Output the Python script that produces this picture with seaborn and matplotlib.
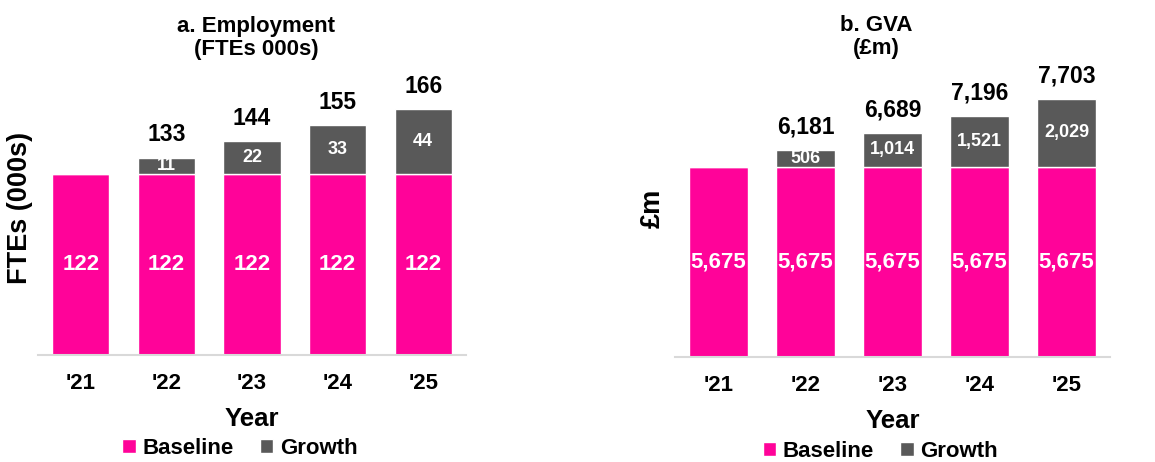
import matplotlib
matplotlib.use("Agg")
import matplotlib.pyplot as plt
import seaborn as sns

years = ["'21", "'22", "'23", "'24", "'25"]

emp_baseline = [122, 122, 122, 122, 122]
emp_growth = [0, 11, 22, 33, 44]
emp_totals = [None, 133, 144, 155, 166]

gva_baseline = [5675, 5675, 5675, 5675, 5675]
gva_growth = [0, 506, 1014, 1521, 2029]
gva_totals = [None, 6181, 6689, 7196, 7703]

pink = '#FF0399'
grey = '#595959'

sns.set_theme(style='white')
plt.rcParams['font.family'] = ['Liberation Sans', 'DejaVu Sans']
plt.rcParams['font.weight'] = 'bold'
plt.rcParams['text.color'] = 'black'
plt.rcParams['axes.labelcolor'] = 'black'
plt.rcParams['xtick.color'] = 'black'

fig = plt.figure(figsize=(11.55, 4.62), dpi=100)
ax1 = fig.add_axes([38 / 1155, 1 - 355 / 462, 428 / 1155, 282 / 462])
ax2 = fig.add_axes([675 / 1155, 1 - 357 / 462, 435 / 1155, 285 / 462])


def fmt(v):
    return '' if not v else f'{v:,}'


def draw(ax, base, growth, totals, ymax, title, title_x, ylabel, ylabel_x):
    sns.barplot(x=years, y=base, color=pink, saturation=1, width=0.667,
                errorbar=None, label='Baseline', ax=ax)
    sns.barplot(x=years, y=growth, bottom=base, color=grey, saturation=1,
                width=0.667, errorbar=None, label='Growth', ax=ax)
    base_bars, growth_bars = ax.containers[0], ax.containers[1]
    ax.bar_label(base_bars, labels=[fmt(v) for v in base], label_type='center',
                 color='white', fontsize=16, fontweight='bold')
    ax.bar_label(growth_bars, labels=[fmt(v) for v in growth], label_type='center',
                 color='white', fontsize=13, fontweight='bold')
    ax.bar_label(growth_bars, labels=[fmt(v) for v in totals], padding=8,
                 color='black', fontsize=16.5, fontweight='bold')
    ax.set_xlim(-0.5, 4.5)
    ax.set_ylim(0, ymax)
    ax.set_yticks([])
    for s in ['top', 'right', 'left']:
        ax.spines[s].set_visible(False)
    ax.spines['bottom'].set_color('#d9d9d9')
    ax.spines['bottom'].set_linewidth(1.5)
    ax.tick_params(axis='x', length=0, pad=13, labelsize=16)
    for t in ax.get_xticklabels():
        t.set_fontweight('bold')
    ax.set_xlabel('Year', fontsize=18.5, fontweight='bold', labelpad=9)
    ax.set_ylabel(ylabel, fontsize=19.5, fontweight='bold')
    ax.yaxis.set_label_coords(ylabel_x, 0.52)
    ax.set_title(title, x=title_x, fontsize=16, fontweight='bold', pad=13,
                 linespacing=1.15)
    ax.legend(loc='center', bbox_to_anchor=(0.472, -0.33), ncol=2, frameon=False,
              fontsize=16, handlelength=0.6, handleheight=0.6,
              handletextpad=0.3, columnspacing=1.2, borderaxespad=0)


draw(ax1, emp_baseline, emp_growth, emp_totals, 190,
     'a. Employment\n(FTEs 000s)', 0.51, 'FTEs (000s)', -0.012)
draw(ax2, gva_baseline, gva_growth, gva_totals, 8500,
     'b. GVA\n(£m)', 0.462, '£m', -0.021)

fig.savefig('out.png', dpi=100)
